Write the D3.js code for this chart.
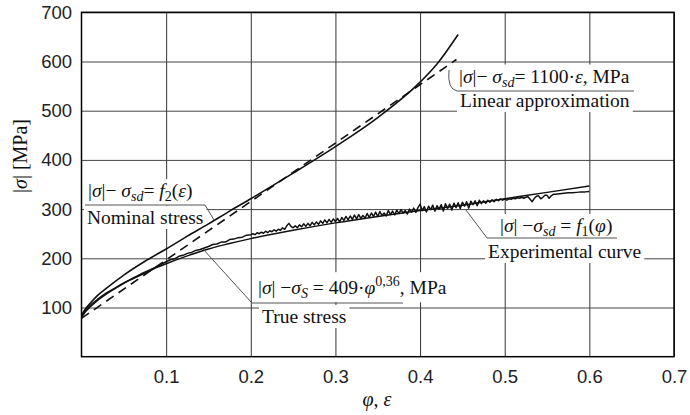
<!DOCTYPE html>
<html><head><meta charset="utf-8">
<script src="https://cdn.jsdelivr.net/npm/d3@7"></script>
<style>body{margin:0;background:#fff}svg{display:block}text{white-space:pre}</style>
</head><body><svg id="c" width="690" height="415"></svg>
<script>
// ---- data ----
const xTicks = [0.1, 0.2, 0.3, 0.4, 0.5, 0.6, 0.7];
const yTicks = [100, 200, 300, 400, 500, 600, 700];

// Nominal stress (solid, upper)
const nominalX = [0, 0.005, 0.01, 0.02, 0.03, 0.05, 0.075, 0.1, 0.125, 0.15, 0.175, 0.2, 0.25, 0.3, 0.35, 0.4, 0.42, 0.445];
const nominalY = [84, 98, 108, 126, 140, 166, 194, 219, 245, 270, 296, 321, 373, 427, 486, 558, 595, 655];

// Linear approximation (dashed)
const linearX = [0, 0.443];
const linearY = [78, 604];

// True stress fit (smooth, lower bundle)
const trueX = [0, 0.005, 0.01, 0.02, 0.03, 0.04, 0.05, 0.06, 0.07, 0.08, 0.09, 0.1, 0.125, 0.15, 0.175, 0.2, 0.25, 0.3, 0.35, 0.4, 0.45, 0.5, 0.55, 0.6];
const trueY = [82, 95, 104, 118, 130, 140, 150, 158, 166, 174, 182, 189, 205, 219, 230, 240, 257, 272, 285, 297, 308, 321, 334, 347];

// Experimental curve (noisy)
const expX = [0, 0.005, 0.01, 0.02, 0.03, 0.04, 0.05, 0.06, 0.07, 0.08, 0.09,
  0.100, 0.105, 0.110, 0.115, 0.120, 0.125, 0.130, 0.135, 0.140, 0.145,
  0.150, 0.155, 0.160, 0.165, 0.170, 0.175, 0.180, 0.185, 0.190, 0.195,
  0.2000, 0.2025, 0.2050, 0.2075, 0.2100, 0.2125, 0.2150, 0.2175, 0.2200, 0.2225,
  0.2250, 0.2275, 0.2300, 0.2325, 0.2350, 0.2375, 0.2400, 0.2425, 0.2450, 0.2475,
  0.2500, 0.2525, 0.2550, 0.2575, 0.2600, 0.2625, 0.2650, 0.2675, 0.2700, 0.2725,
  0.2750, 0.2775, 0.2800, 0.2825, 0.2850, 0.2875, 0.2900, 0.2925, 0.2950, 0.2975,
  0.3000, 0.3025, 0.3050, 0.3075, 0.3100, 0.3125, 0.3150, 0.3175, 0.3200, 0.3225,
  0.3250, 0.3275, 0.3300, 0.3325, 0.3350, 0.3375, 0.3400, 0.3425, 0.3450, 0.3475,
  0.3500, 0.3525, 0.3550, 0.3575, 0.3600, 0.3625, 0.3650, 0.3675, 0.3700, 0.3725,
  0.3750, 0.3775, 0.3800, 0.3825, 0.3850, 0.3875, 0.3900, 0.3925, 0.3950, 0.3975,
  0.4000, 0.4025, 0.4050, 0.4075, 0.4100, 0.4125, 0.4150, 0.4175, 0.4200, 0.4225,
  0.4250, 0.4275, 0.4300, 0.4325, 0.4350, 0.4375, 0.4400, 0.4425, 0.4450, 0.4475,
  0.4500, 0.4525, 0.4550, 0.4575, 0.4600, 0.4625, 0.4650, 0.4675, 0.4700, 0.4725,
  0.4750, 0.4775, 0.4800, 0.4825, 0.4850, 0.4875, 0.4900, 0.4925, 0.4950, 0.4975,
  0.5000, 0.5025, 0.5050, 0.5075, 0.5100, 0.5125, 0.5150, 0.5175, 0.5200, 0.5225,
  0.5250, 0.5275, 0.5300, 0.5325, 0.5350, 0.5375, 0.5400, 0.5425, 0.5450, 0.5475,
  0.5500, 0.5525, 0.5550, 0.5575, 0.5600, 0.5650, 0.5700, 0.5750, 0.5800, 0.5850,
  0.5900, 0.5950, 0.6000];
const expY = [80, 92, 101, 116, 128, 139, 149, 159, 168, 176, 184,
  193, 197, 199, 204, 206, 210, 212, 216, 218, 221,
  224, 228, 229, 233, 233, 238, 239, 242, 243, 247,
  248, 250, 248, 252, 250, 253, 251, 255, 252, 256,
  254, 258, 255, 259, 257, 262, 259, 266, 271, 265,
  262, 266, 262, 268, 264, 270, 265, 271, 266, 273,
  268, 274, 269, 276, 271, 278, 272, 279, 273, 280,
  275, 281, 274, 283, 277, 285, 278, 286, 279, 288,
  280, 289, 281, 287, 282, 291, 283, 292, 285, 294,
  285, 295, 287, 292, 286, 297, 289, 296, 288, 298,
  291, 299, 292, 297, 290, 300, 294, 302, 293, 303,
  310, 297, 305, 294, 306, 299, 308, 296, 307, 300,
  309, 296, 311, 301, 310, 298, 312, 303, 313, 301,
  314, 306, 315, 302, 316, 309, 317, 307, 318, 311,
  317, 312, 318, 314, 319, 315, 320, 317, 321, 318,
  321, 318, 321, 320, 322, 321, 323, 322, 324, 322,
  324, 325, 320, 315, 322, 326, 327, 321, 324, 328,
  328, 322, 327, 330, 330, 331, 332, 333, 333, 334,
  335, 335, 336];

// ---- drawing ----
const svg = d3.select("#c");
const x = d3.scaleLinear().domain([0, 0.7]).range([81.5, 674]);
const y = d3.scaleLinear().domain([0, 700]).range([356.7, 12.3]);
const SANS = "'Liberation Sans', Arial, sans-serif";
const SERIF = "'Liberation Serif', 'Times New Roman', serif";

// grid + tick labels via axes
const gx = svg.append("g").attr("transform", `translate(0,${y(0)})`)
  .call(d3.axisBottom(x).tickValues(xTicks).tickFormat(d3.format(".1f"))
    .tickSize(-(y(0) - y(700))).tickPadding(13));
gx.select(".domain").remove();
gx.selectAll(".tick line").attr("stroke", "#333").attr("stroke-width", 1);
gx.selectAll(".tick text").attr("font-family", SANS).attr("font-size", 18.5).attr("fill", "#222");

const gy = svg.append("g").attr("transform", `translate(${x(0)},0)`)
  .call(d3.axisLeft(y).tickValues(yTicks).tickFormat(d3.format("d"))
    .tickSize(-(x(0.7) - x(0))).tickPadding(9.5));
gy.select(".domain").remove();
gy.selectAll(".tick line").attr("stroke", "#444").attr("stroke-width", 1);
gy.selectAll(".tick text").attr("font-family", SANS).attr("font-size", 18.5).attr("fill", "#222");

const bgLayer = svg.append("g");
const curveLayer = svg.append("g");
const annLayer = svg.append("g");

// frame
svg.append("rect").attr("x", x(0)).attr("y", y(700)).attr("width", x(0.7) - x(0)).attr("height", y(0) - y(700))
  .attr("fill", "none").attr("stroke", "#000").attr("stroke-width", 1.5);

const zip = (xs, ys) => xs.map((v, i) => [v, ys[i]]);
const smooth = d3.line().x(d => x(d[0])).y(d => y(d[1])).curve(d3.curveMonotoneX);
const straight = d3.line().x(d => x(d[0])).y(d => y(d[1]));

curveLayer.append("path").attr("d", smooth(zip(nominalX, nominalY)))
  .attr("fill", "none").attr("stroke", "#111").attr("stroke-width", 1.6);
curveLayer.append("path").attr("d", straight(zip(linearX, linearY)))
  .attr("fill", "none").attr("stroke", "#111").attr("stroke-width", 1.6).attr("stroke-dasharray", "9,6");
curveLayer.append("path").attr("d", smooth(zip(trueX, trueY)))
  .attr("fill", "none").attr("stroke", "#111").attr("stroke-width", 1.5);
curveLayer.append("path").attr("d", straight(zip(expX, expY)))
  .attr("fill", "none").attr("stroke", "#111").attr("stroke-width", 1.5).attr("stroke-linejoin", "round");

// rich text helper
function rich(g, px, py, parts, size, opts = {}) {
  const t = g.append("text").attr("x", px).attr("y", py)
    .attr("font-family", SERIF).attr("font-size", size).attr("fill", "#111");
  if (opts.anchor) t.attr("text-anchor", opts.anchor);
  if (opts.transform) t.attr("transform", opts.transform);
  let cur = 0;
  parts.forEach(p => {
    const s = t.append("tspan").text(p.t);
    let target = 0;
    if (p.i) s.attr("font-style", "italic");
    if (p.sub) { s.attr("font-size", size * 0.72); target = size * 0.22; }
    if (p.sup) { s.attr("font-size", size * 0.72); target = -size * 0.4; }
    if (target !== cur) { s.attr("dy", target - cur); cur = target; }
  });
  return t;
}
function backing(t, pad) {
  const b = t.node().getBBox();
  bgLayer.append("rect").attr("x", b.x - pad).attr("y", b.y - 1).attr("width", b.width + 2 * pad)
    .attr("height", b.height + 2).attr("fill", "#fff");
}

const FS = 19.5;
const lead = (d) => annLayer.append("path").attr("d", d).attr("fill", "none").attr("stroke", "#555").attr("stroke-width", 1);

// A1: linear approximation
const a1 = rich(annLayer, 459, 82.5, [{t:"|"},{t:"σ",i:1},{t:"|− "},{t:"σ",i:1},{t:"sd",i:1,sub:1},{t:"= 1100·"},{t:"ε",i:1},{t:", MPa"}], FS);
const a1b = rich(annLayer, 460, 107, [{t:"Linear approximation"}], FS);
backing(a1, 3); backing(a1b, 3);
lead("M634,91 L457,91 Q447,89 449,70");

// A2: nominal stress
const a2 = rich(annLayer, 88, 197, [{t:"|"},{t:"σ",i:1},{t:"|− "},{t:"σ",i:1},{t:"sd",i:1,sub:1},{t:"= "},{t:"f",i:1},{t:"2",sub:1},{t:"("},{t:"ε",i:1},{t:")"}], FS);
const a2b = rich(annLayer, 87, 224, [{t:"Nominal stress"}], FS);
backing(a2, 3); backing(a2b, 3);
lead("M85,205 L205,205 L214,220");

// A3: true stress
const a3 = rich(annLayer, 258, 294, [{t:"|"},{t:"σ",i:1},{t:"| −"},{t:"σ",i:1},{t:"S",i:1,sub:1},{t:" = 409·"},{t:"φ",i:1},{t:"0,36",sup:1},{t:", MPa"}], FS);
const a3b = rich(annLayer, 262, 323, [{t:"True stress"}], FS);
backing(a3, 3); backing(a3b, 3);
lead("M403,303 L252,303 L203,249");

// A4: experimental curve
const a4 = rich(annLayer, 500, 232, [{t:"|"},{t:"σ",i:1},{t:"| −"},{t:"σ",i:1},{t:"sd",i:1,sub:1},{t:" = "},{t:"f",i:1},{t:"1",sub:1},{t:"("},{t:"φ",i:1},{t:")"}], FS);
const a4b = rich(annLayer, 488, 258, [{t:"Experimental curve"}], FS);
backing(a4, 3); backing(a4b, 3);
lead("M617,238 L487,238 L466,210");

// axis titles
rich(svg, 0, 0, [{t:"|"},{t:"σ",i:1},{t:"| [MPa]"}], 20, {anchor: "middle", transform: "translate(27,156) rotate(-90)"});
rich(svg, 377, 406, [{t:"φ",i:1},{t:", "},{t:"ε",i:1}], 20, {anchor: "middle"});
</script>
</body></html>
